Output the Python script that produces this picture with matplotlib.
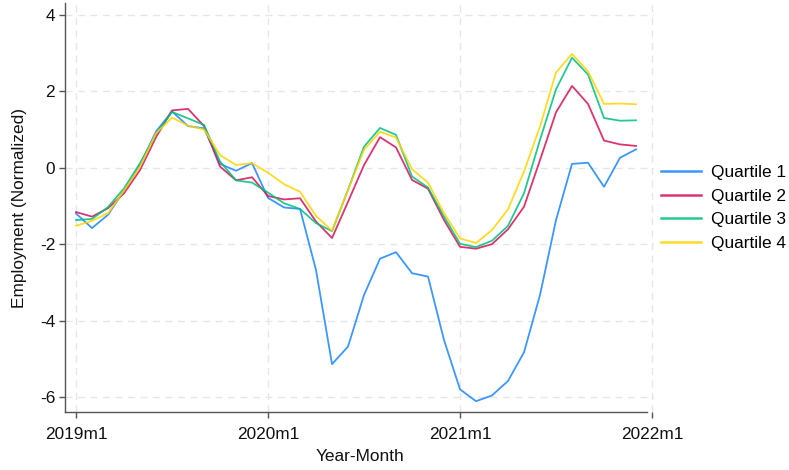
import matplotlib
matplotlib.use("Agg")
import matplotlib.pyplot as plt
import numpy as np

# Monthly series, 2019m1 .. 2021m12
months = np.arange(36)
quartile_1 = [-1.20, -1.58, -1.23, -0.60, 0.07, 0.95, 1.47, 1.09, 1.03, 0.10, -0.08, 0.12,
              -0.79, -1.04, -1.08, -2.68, -5.14, -4.68, -3.33, -2.38, -2.21, -2.76, -2.85, -4.51,
              -5.80, -6.11, -5.96, -5.58, -4.83, -3.33, -1.37, 0.10, 0.13, -0.50, 0.26, 0.48]
quartile_2 = [-1.16, -1.28, -1.06, -0.67, -0.06, 0.80, 1.50, 1.54, 1.09, 0.03, -0.33, -0.25,
              -0.74, -0.83, -0.80, -1.41, -1.84, -0.89, 0.07, 0.80, 0.53, -0.32, -0.55, -1.37,
              -2.07, -2.12, -2.00, -1.61, -1.02, 0.20, 1.45, 2.14, 1.67, 0.71, 0.61, 0.57]
quartile_3 = [-1.37, -1.34, -1.03, -0.54, 0.12, 0.88, 1.46, 1.29, 1.12, 0.16, -0.33, -0.39,
              -0.65, -0.93, -1.08, -1.45, -1.66, -0.58, 0.55, 1.04, 0.86, -0.23, -0.52, -1.28,
              -1.99, -2.08, -1.91, -1.52, -0.67, 0.73, 2.05, 2.88, 2.44, 1.30, 1.23, 1.24]
quartile_4 = [-1.52, -1.39, -1.19, -0.60, 0.03, 0.90, 1.31, 1.10, 1.00, 0.33, 0.07, 0.12,
              -0.13, -0.43, -0.63, -1.26, -1.65, -0.58, 0.47, 0.94, 0.79, -0.04, -0.39, -1.19,
              -1.85, -1.97, -1.63, -1.09, -0.10, 1.08, 2.49, 2.98, 2.52, 1.67, 1.68, 1.66]

series_labels = ["Quartile 1", "Quartile 2", "Quartile 3", "Quartile 4"]
colors = ["#1a85ff", "#d41159", "#00bf7f", "#ffd400"]

x_ticks = [0, 12, 24, 36]
x_tick_labels = ["2019m1", "2020m1", "2021m1", "2022m1"]
y_ticks = [-6, -4, -2, 0, 2, 4]

plt.rcParams["font.family"] = ["Liberation Sans", "DejaVu Sans"]
plt.rcParams["axes.unicode_minus"] = False

FS = 12.4

fig = plt.figure(figsize=(7.89, 4.70), dpi=100)
ax = fig.add_axes([0.0828, 0.1228, 0.7456, 0.8708])

for vals, lab, col in zip([quartile_1, quartile_2, quartile_3, quartile_4], series_labels, colors):
    ax.plot(months, vals, color=col, lw=1.3, label=lab, alpha=0.85)

ax.set_xlim(-0.67, 36.1)
ax.set_ylim(-6.40, 4.31)
ax.set_xticks(x_ticks)
ax.set_xticklabels(x_tick_labels)
ax.set_yticks(y_ticks)

ax.grid(True, color="#e6e6e6", linestyle=(0, (5, 4)), linewidth=1.0)
ax.set_axisbelow(True)

for side in ["top", "right"]:
    ax.spines[side].set_visible(False)
for side in ["left", "bottom"]:
    ax.spines[side].set_color("#555555")
    ax.spines[side].set_linewidth(1.0)
ax.spines["bottom"].set_bounds(-0.67, 35.67)

ax.tick_params(axis="both", direction="out", length=4.3, width=1, color="#555555",
               labelsize=FS, labelcolor="#111111")
ax.tick_params(axis="x", pad=6.5)
ax.tick_params(axis="y", pad=3)
ax.set_xlabel("Year-Month", fontsize=FS, color="#111111", labelpad=5)
ax.set_ylabel("Employment (Normalized)", fontsize=FS, color="#111111", labelpad=9)

leg = fig.legend(loc="center left", bbox_to_anchor=(0.8378, 0.557), frameon=False,
                 fontsize=FS, handlelength=2.3, labelspacing=0.49, handletextpad=0.6,
                 borderpad=0, borderaxespad=0)
for line in leg.get_lines():
    line.set_linewidth(1.8)

fig.savefig("out.png", dpi=100)
